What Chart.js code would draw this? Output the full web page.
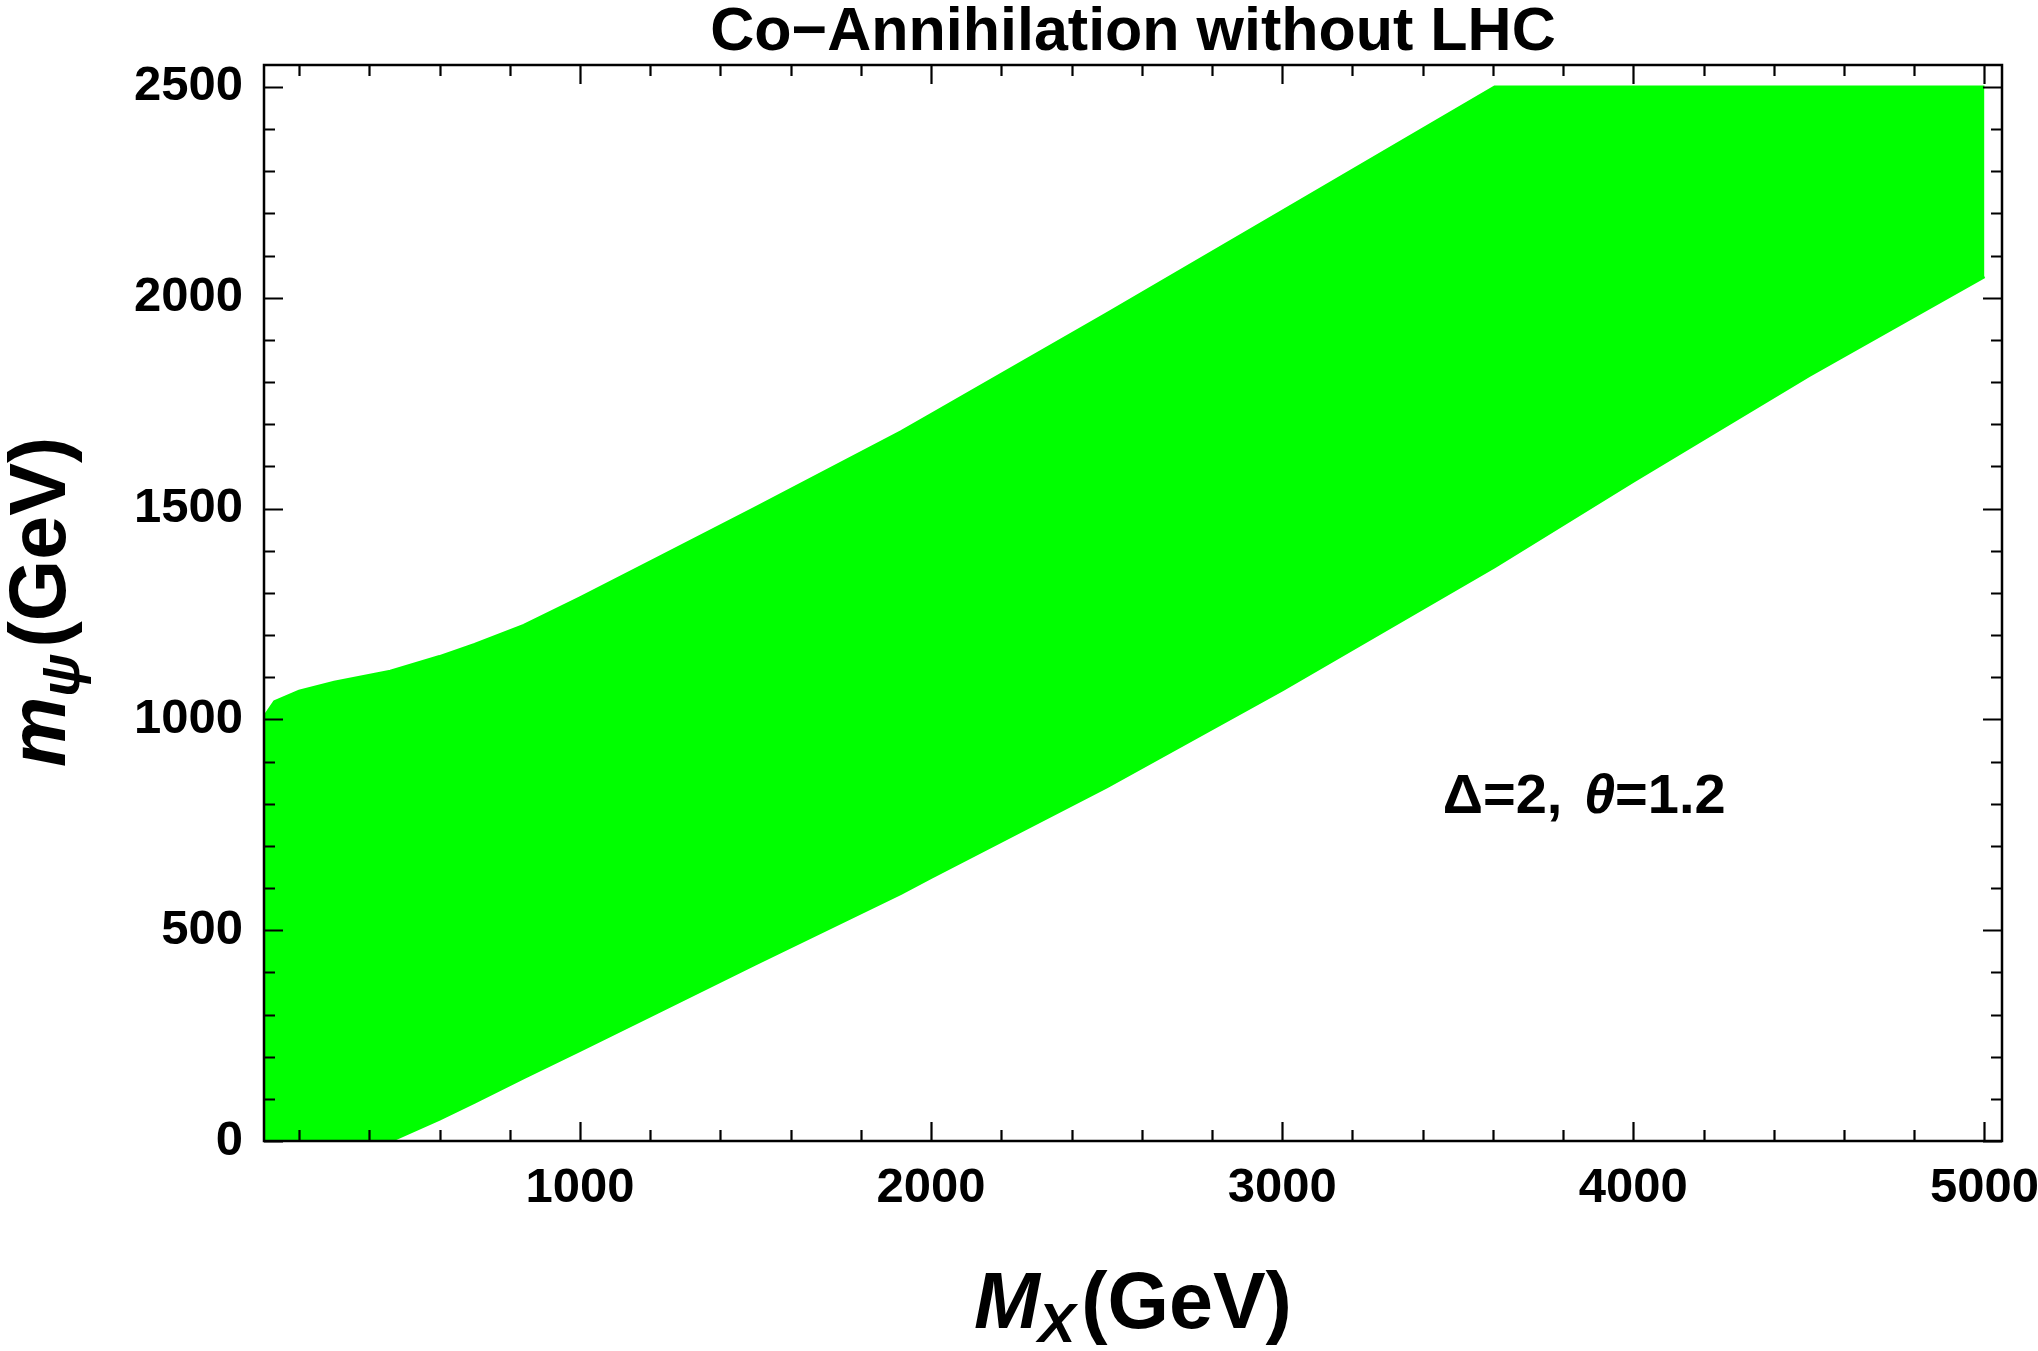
<!DOCTYPE html>
<html>
<head>
<meta charset="utf-8">
<script src="https://cdn.jsdelivr.net/npm/chart.js@4.4.1/dist/chart.umd.min.js"></script>
<style>
  html, body { margin: 0; padding: 0; background: #ffffff; }
  #wrap { width: 2038px; height: 1351px; position: relative; }
</style>
</head>
<body>
<div id="wrap"><canvas id="c" width="2038" height="1351"></canvas></div>
<script>
// ---- data ----
const massX      = [100, 130, 200, 300, 460, 600, 700, 840, 1000, 1220, 1500, 1914, 2000, 2500, 3000, 3605, 4000, 4500, 5000];
const upperMpsi  = [1005, 1042, 1067, 1088, 1114, 1149, 1178, 1223, 1288, 1382, 1502, 1682, 1723, 1962, 2205, 2500, 2500, 2500, 2500];
const lowerMpsi  = [0, 0, 0, 0, 0, 52, 92, 150, 215, 305, 420, 587, 625, 840, 1070, 1362, 1565, 1815, 2050];
const xTickLabels = [1000, 2000, 3000, 4000, 5000];
const yTickLabels = [0, 500, 1000, 1500, 2000, 2500];
const titleText = 'Co\u2212Annihilation without LHC';
const annotationParts = ['\u0394=2, ', '\u03B8', '=1.2'];
const annotationAt = { x: 3457, y: 779 };

const FONT = '"Liberation Sans", Arial, Helvetica, sans-serif';
const GREEN = '#00ff00';

const upperPts = massX.map((m, i) => ({ x: m, y: upperMpsi[i] }));
const lowerPts = massX.map((m, i) => ({ x: m, y: lowerMpsi[i] }));

const framePlugin = {
  id: 'frameAndLabels',
  afterDraw(chart) {
    const { ctx, chartArea: a, scales: { x, y } } = chart;
    ctx.save();
    // ticks (inward, all four sides)
    ctx.strokeStyle = '#000';
    ctx.lineWidth = 2.2;
    ctx.beginPath();
    for (let v = 200; v <= 5000; v += 200) {
      const L = (v % 1000 === 0) ? 19 : 11;
      const px = Math.round(x.getPixelForValue(v)) + 0.5;
      ctx.moveTo(px, a.bottom); ctx.lineTo(px, a.bottom - L);
      ctx.moveTo(px, a.top); ctx.lineTo(px, a.top + L);
    }
    for (let v = 0; v <= 2500; v += 100) {
      const L = (v % 500 === 0) ? 19 : 11;
      const py = Math.round(y.getPixelForValue(v)) + 0.5;
      ctx.moveTo(a.left, py); ctx.lineTo(a.left + L, py);
      ctx.moveTo(a.right, py); ctx.lineTo(a.right - L, py);
    }
    ctx.stroke();
    // frame
    ctx.lineWidth = 2.5;
    ctx.strokeRect(a.left, a.top, a.right - a.left, a.bottom - a.top);

    ctx.fillStyle = '#000';
    ctx.textBaseline = 'alphabetic';
    const cx = (a.left + a.right) / 2;

    // title
    ctx.textAlign = 'center';
    ctx.font = 'bold 61px ' + FONT;
    ctx.fillText(titleText, cx, 50);
    ctx.textAlign = 'left';

    // x axis title: M_X(GeV)
    const big = 79, sub = 56;
    const fIt = 'italic bold ' + big + 'px ' + FONT;
    const fSub = 'italic bold ' + sub + 'px ' + FONT;
    const fB = 'bold ' + big + 'px ' + FONT;
    ctx.font = fIt; const wM = ctx.measureText('M').width;
    ctx.font = fSub; const wX = ctx.measureText('X').width;
    ctx.font = fB; const wG = ctx.measureText('(GeV)').width;
    let sx = cx - (wM + wX + wG + 4) / 2;
    const by = 1328;
    ctx.font = fIt; ctx.fillText('M', sx, by);
    ctx.font = fSub; ctx.fillText('X', sx + wM - 2, by + 14);
    ctx.font = fB; ctx.fillText('(GeV)', sx + wM + wX + 4, by);

    // y axis title: m_psi(GeV), rotated, starting near the bottom
    ctx.save();
    ctx.translate(65, 767);
    ctx.rotate(-Math.PI / 2);
    ctx.font = fIt; const wm = ctx.measureText('m').width;
    ctx.font = fSub; const wp = ctx.measureText('\u03C8').width;
    ctx.font = fIt; ctx.fillText('m', 0, 0);
    ctx.font = fSub; ctx.fillText('\u03C8', wm, 14);
    ctx.font = fB; ctx.fillText('(GeV)', wm + wp + 6, 0);
    ctx.restore();

    // annotation
    const ax = x.getPixelForValue(annotationAt.x);
    const ay = y.getPixelForValue(annotationAt.y);
    const fa = 'bold 56px ' + FONT, fai = 'italic bold 56px ' + FONT;
    ctx.font = fa; ctx.fillText(annotationParts[0], ax, ay);
    let ox = ax + ctx.measureText(annotationParts[0]).width + 6;
    ctx.font = fai; ctx.fillText(annotationParts[1], ox, ay);
    ox += ctx.measureText(annotationParts[1]).width;
    ctx.font = fa; ctx.fillText(annotationParts[2], ox, ay);
    ctx.restore();
  }
};

new Chart(document.getElementById('c'), {
  type: 'scatter',
  data: {
    datasets: [
      {
        label: 'upper',
        data: upperPts,
        showLine: true,
        borderColor: GREEN,
        borderWidth: 3,
        backgroundColor: GREEN,
        pointRadius: 0,
        tension: 0,
        fill: '+1'
      },
      {
        label: 'lower',
        data: lowerPts,
        showLine: true,
        borderColor: GREEN,
        borderWidth: 3,
        backgroundColor: GREEN,
        pointRadius: 0,
        tension: 0,
        fill: false
      }
    ]
  },
  options: {
    responsive: false,
    devicePixelRatio: 1,
    animation: false,
    layout: { padding: { left: 0, right: 36, top: 65, bottom: 0 } },
    plugins: {
      legend: { display: false },
      tooltip: { enabled: false },
      title: { display: false }
    },
    scales: {
      x: {
        type: 'linear',
        min: 100,
        max: 5050,
        grid: { display: false, drawTicks: false },
        border: { display: false },
        afterBuildTicks: (axis) => { axis.ticks = xTickLabels.map(v => ({ value: v })); },
        afterFit: (axis) => { axis.height = 210; axis.paddingLeft = 0; axis.paddingRight = 0; },
        ticks: {
          color: '#000',
          padding: 18,
          maxRotation: 0,
          autoSkip: false,
          font: { family: FONT, size: 49, weight: 'bold' },
          callback: (v) => String(v)
        }
      },
      y: {
        type: 'linear',
        min: 0,
        max: 2552,
        grid: { display: false, drawTicks: false },
        border: { display: false },
        afterBuildTicks: (axis) => { axis.ticks = yTickLabels.map(v => ({ value: v })); },
        afterFit: (axis) => { axis.width = 264; axis.paddingTop = 0; axis.paddingBottom = 0; },
        ticks: {
          color: '#000',
          padding: 21,
          autoSkip: false,
          font: { family: FONT, size: 49, weight: 'bold' },
          callback: (v) => String(v)
        }
      }
    }
  },
  plugins: [framePlugin]
});
</script>
</body>
</html>
